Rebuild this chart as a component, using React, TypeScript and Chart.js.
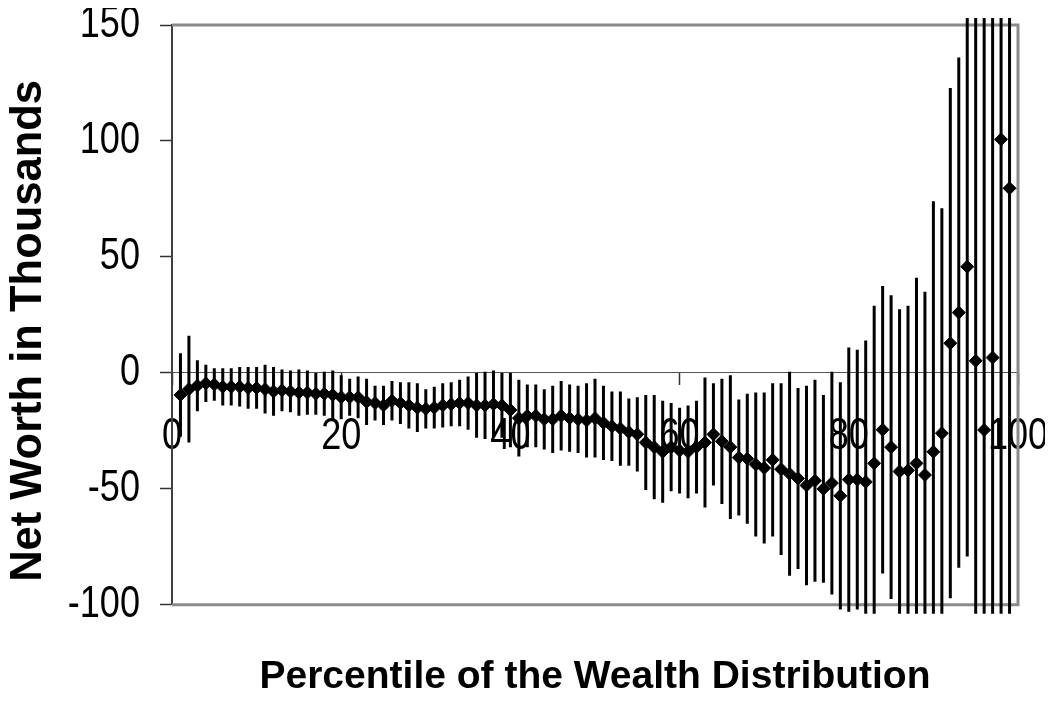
import React, { useEffect, useRef } from "react";
import { Chart, registerables } from "chart.js";

Chart.register(...registerables);

// Percentile of the wealth distribution (x)
const PERCENTILES = [
  1, 2, 3, 4, 5, 6, 7, 8, 9, 10,
  11, 12, 13, 14, 15, 16, 17, 18, 19, 20,
  21, 22, 23, 24, 25, 26, 27, 28, 29, 30,
  31, 32, 33, 34, 35, 36, 37, 38, 39, 40,
  41, 42, 43, 44, 45, 46, 47, 48, 49, 50,
  51, 52, 53, 54, 55, 56, 57, 58, 59, 60,
  61, 62, 63, 64, 65, 66, 67, 68, 69, 70,
  71, 72, 73, 74, 75, 76, 77, 78, 79, 80,
  81, 82, 83, 84, 85, 86, 87, 88, 89, 90,
  91, 92, 93, 94, 95, 96, 97, 98, 99,
];

// Net worth in thousands (point estimates)
const NET_WORTH = [
  -9.5, -7, -5.5, -4.5, -5, -6, -6, -6, -6.5, -6.5,
  -7, -8, -7.5, -8, -8.5, -8.5, -9, -9, -9.5, -10.5,
  -10.5, -10.5, -12.5, -13, -14, -12, -13, -14, -15, -15.5,
  -15, -14, -13.5, -13, -13, -14, -14, -13.5, -14, -16,
  -19.5, -18.5, -18.5, -20, -20, -18.5, -19.5, -20, -20.5, -19.5,
  -21.5, -23, -24, -25.5, -26.5, -30, -32, -34, -32, -33.5,
  -34, -32, -30, -26.5, -29.5, -32, -36.5, -37, -39.5, -41,
  -37.5, -41.5, -43.5, -45.5, -48.5, -46.5, -50, -47.5, -53, -46,
  -46, -47, -39, -24.5, -32, -42.5, -42, -39, -44, -34,
  -26, 12.8, 26, 45.8, 5.2, -24.6, 6.6, 100.7, 79.6,
];

// Half-length of the error bars (thousands)
const ERROR = [
  18, 23, 11, 8, 7, 8, 8, 8.5, 9, 9,
  10.5, 10.5, 9, 9, 10, 9.5, 9, 9.5, 10.5, 9.5,
  8, 9, 10, 7.5, 8.5, 8.5, 9, 10, 10.5, 8.5,
  9, 9.5, 9.5, 10, 11.5, 14, 14.5, 14.5, 14, 16,
  16.5, 13.5, 13.5, 13, 14.5, 15, 14.5, 14.5, 16, 17,
  16, 15, 16, 14.5, 16, 20.5, 22.5, 22, 19, 18.5,
  20, 20, 28, 22, 27, 31, 25, 28, 31, 32.5,
  33, 37, 44, 39, 43, 43.5, 40.5, 48, 49, 57,
  56, 61, 68, 62, 65.5, 70, 71, 80, 79, 108,
  97, 110, 110, 125, 170, 190, 200, 260, 250,
];

const X_MIN = 0;
const X_MAX = 100;
const X_STEP = 20;
const Y_MIN = -100;
const Y_MAX = 150;
const Y_STEP = 50;

const X_TITLE = "Percentile of the Wealth Distribution";
const Y_TITLE = "Net Worth in Thousands";

const SANS = "'Liberation Sans', Arial, sans-serif";
const TICK_SIZE = 44;
const TICK_CONDENSE = 0.82;

// Tick labels in the reference use a narrow face; render them horizontally condensed.
const condensePlugin = {
  id: "condenseTicks",
  afterInit(chart: any) {
    const ctx = chart.ctx as any;
    if (ctx.__condensed) return;
    ctx.__condensed = true;
    const orig = ctx.fillText;
    ctx.fillText = function (text: string, x: number, y: number, maxWidth?: number) {
      if (String(this.font).indexOf(TICK_SIZE + "px") !== -1 && String(this.font).indexOf("bold") === -1) {
        this.save();
        this.translate(x, y);
        this.scale(TICK_CONDENSE, 1);
        if (maxWidth === undefined) orig.call(this, text, 0, 0);
        else orig.call(this, text, 0, 0, maxWidth / TICK_CONDENSE);
        this.restore();
        return;
      }
      if (maxWidth === undefined) return orig.call(this, text, x, y);
      return orig.call(this, text, x, y, maxWidth);
    };
  },
};

// Vertical axis title, placed as in the reference (slightly below the plot centre).
const yTitlePlugin = {
  id: "yTitle",
  afterDraw(chart: any) {
    const { ctx, chartArea } = chart;
    ctx.save();
    ctx.translate(21, (chartArea.top + chartArea.bottom) / 2 + 16);
    ctx.rotate(-Math.PI / 2);
    ctx.font = "bold 43.5px " + SANS;
    ctx.fillStyle = "#000";
    ctx.textAlign = "center";
    ctx.textBaseline = "middle";
    ctx.fillText(Y_TITLE, 0, 0);
    ctx.restore();
  },
};

const errorBarPlugin = {
  id: "errorBars",
  beforeDatasetsDraw(chart: any) {
    const { ctx, chartArea, scales } = chart;
    const xs = scales.x;
    const ys = scales.y;
    ctx.save();
    // plot-area frame (top, right, bottom)
    ctx.strokeStyle = "#8a8a8a";
    ctx.lineWidth = 3;
    ctx.beginPath();
    ctx.moveTo(chartArea.left, chartArea.top);
    ctx.lineTo(chartArea.right, chartArea.top);
    ctx.lineTo(chartArea.right, chartArea.bottom);
    ctx.lineTo(chartArea.left, chartArea.bottom);
    ctx.stroke();
    // error bars
    ctx.beginPath();
    ctx.rect(
      chartArea.left - 5,
      chartArea.top - 7,
      chartArea.right - chartArea.left + 10,
      chartArea.bottom - chartArea.top + 16
    );
    ctx.clip();
    ctx.strokeStyle = "#000";
    ctx.lineWidth = 3;
    PERCENTILES.forEach((p, i) => {
      const x = xs.getPixelForValue(p);
      ctx.beginPath();
      ctx.moveTo(x, ys.getPixelForValue(NET_WORTH[i] + ERROR[i]));
      ctx.lineTo(x, ys.getPixelForValue(NET_WORTH[i] - ERROR[i]));
      ctx.stroke();
    });
    ctx.restore();
  },
};

export default function App() {
  const canvasRef = useRef<HTMLCanvasElement | null>(null);

  useEffect(() => {
    if (!canvasRef.current) return;
    const chart = new Chart(canvasRef.current, {
      type: "scatter",
      data: {
        datasets: [
          {
            label: "Net worth",
            data: PERCENTILES.map((p, i) => ({ x: p, y: NET_WORTH[i] })),
            pointStyle: "rectRot",
            pointRadius: 6.5,
            pointHoverRadius: 6.5,
            backgroundColor: "#000",
            borderColor: "#000",
            borderWidth: 1,
            showLine: false,
            xAxisID: "x",
            yAxisID: "y",
          },
        ],
      },
      options: {
        animation: false,
        responsive: true,
        maintainAspectRatio: false,
        layout: { padding: { top: 17, right: 27, left: 0, bottom: 0 } },
        plugins: {
          legend: { display: false },
          tooltip: { enabled: false },
        },
        scales: {
          x: {
            type: "linear",
            position: { y: 0 },
            min: X_MIN,
            max: X_MAX,
            ticks: {
              stepSize: X_STEP,
              color: "#000",
              padding: 30,
              maxRotation: 0,
              autoSkip: false,
              font: { family: SANS, size: TICK_SIZE, lineHeight: 1 },
            },
            grid: {
              drawOnChartArea: false,
              drawTicks: true,
              tickLength: 12,
              tickColor: "#333",
              tickWidth: 1.5,
            },
            border: { display: true, color: "#555", width: 1 },
            afterFit: (s: any) => {
              s.paddingLeft = 0;
              s.paddingRight = 0;
            },
          },
          xTitle: {
            type: "linear",
            axis: "x",
            position: "bottom",
            min: X_MIN,
            max: X_MAX,
            ticks: { display: false },
            grid: { display: false, drawTicks: false },
            border: { display: false },
            title: {
              display: true,
              text: X_TITLE,
              color: "#000",
              font: { family: SANS, size: 39, weight: "bold", lineHeight: 0.85 },
              padding: { top: 56, bottom: 0 },
            },
          },
          y: {
            type: "linear",
            position: "left",
            min: Y_MIN,
            max: Y_MAX,
            ticks: {
              stepSize: Y_STEP,
              color: "#000",
              padding: 20,
              font: { family: SANS, size: TICK_SIZE, lineHeight: 1 },
            },
            grid: {
              drawOnChartArea: false,
              drawTicks: true,
              tickLength: 12,
              tickColor: "#333",
              tickWidth: 1.5,
            },
            border: { display: true, color: "#404040", width: 2 },
            title: { display: false },
            afterFit: (s: any) => {
              s.width = 164;
              s.paddingTop = 0;
              s.paddingBottom = 0;
            },
          },
        },
      },
      plugins: [condensePlugin, errorBarPlugin, yTitlePlugin],
    } as any);
    return () => chart.destroy();
  }, []);

  return (
    <div style={{ width: 1037, height: 686, position: "relative", background: "#fff" }}>
      <canvas ref={canvasRef} />
    </div>
  );
}
